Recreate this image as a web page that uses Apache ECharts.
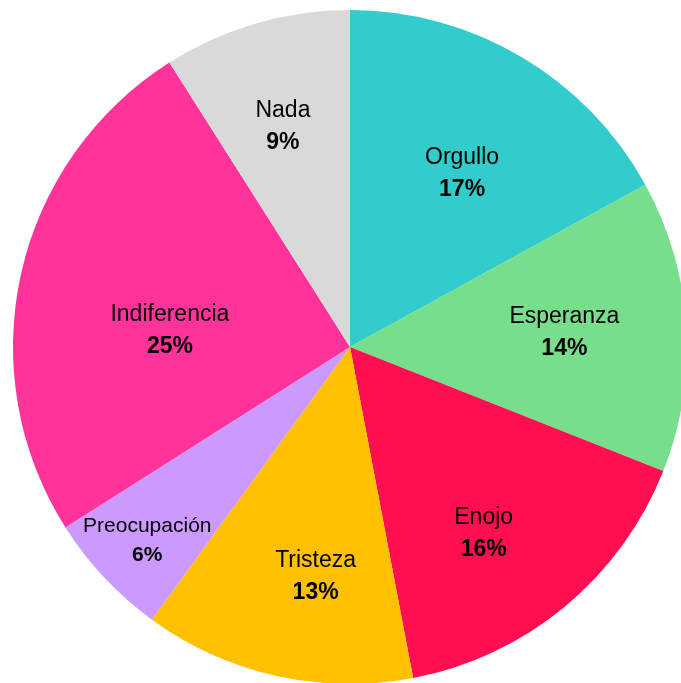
<!DOCTYPE html>
<html>
<head>
<meta charset="utf-8">
<script src="https://cdn.jsdelivr.net/npm/echarts@6/dist/echarts.min.js"></script>
<style>
  html, body { margin: 0; padding: 0; background: #fff; }
  #chart { width: 681px; height: 683px; }
</style>
</head>
<body>
<div id="chart"></div>
<script>
// datos del gráfico
const categories = ["Orgullo", "Esperanza", "Enojo", "Tristeza", "Preocupación", "Indiferencia", "Nada"];
const values = [17, 14, 16, 13, 6, 25, 9];
const colors = ["#33CCCC", "#77DF8C", "#FF0F4F", "#FFC000", "#CC99FF", "#FF3399", "#D9D9D9"];

// posición de cada etiqueta: distancia al centro (px) y giro respecto al ángulo medio (grados)
const labelRadius = [208, 215, 228, 230, 279, 181, 232];
const labelTurn = [2, -0.8, 3.7, -4, -0.2, -6.9, -0.6];

const cx = 350, cy = 347, radius = 337;

const chart = echarts.init(document.getElementById("chart"));

const rich = {
  n: { fontFamily: "Liberation Sans", fontSize: 23, color: "#000", lineHeight: 32 },
  s: { fontFamily: "Liberation Sans", fontSize: 21, color: "#000", lineHeight: 29 },
  p: { fontFamily: "Liberation Sans", fontSize: 23, fontWeight: "bold", color: "#000", lineHeight: 32 },
  q: { fontFamily: "Liberation Sans", fontSize: 21, fontWeight: "bold", color: "#000", lineHeight: 29 }
};

chart.setOption({
  animation: false,
  series: [
    {
      type: "pie",
      center: [cx, cy],
      radius: [0, radius],
      startAngle: 90,
      silent: true,
      labelLine: { show: false },
      label: {
        position: "inside",
        formatter: (p) => {
          const small = p.name === "Preocupación";
          return "{" + (small ? "s" : "n") + "|" + p.name + "}\n{" + (small ? "q" : "p") + "|" + p.value + "%}";
        },
        rich: rich
      },
      labelLayout: (params) => {
        const r = params.labelRect;
        const lx = r.x + r.width / 2, ly = r.y + r.height / 2;
        const i = params.dataIndex;
        const a = Math.atan2(lx - cx, cy - ly) + labelTurn[i] * Math.PI / 180;
        const tx = cx + labelRadius[i] * Math.sin(a);
        const ty = cy - labelRadius[i] * Math.cos(a) + 2;
        return { dx: tx - lx, dy: ty - ly };
      },
      data: categories.map((c, i) => ({
        name: c,
        value: values[i],
        itemStyle: { color: colors[i] }
      }))
    }
  ]
});
</script>
</body>
</html>
